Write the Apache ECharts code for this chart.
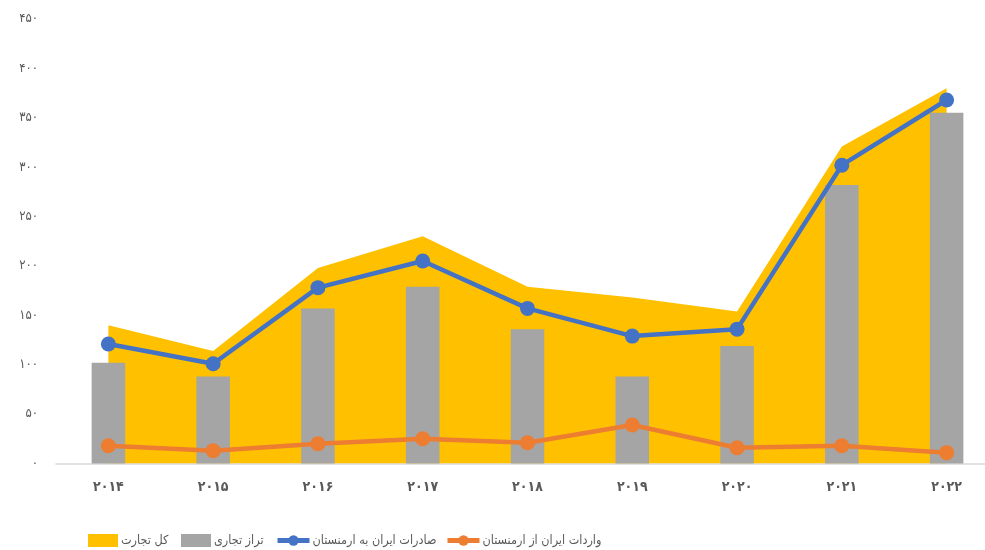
<!DOCTYPE html>
<html><head><meta charset="utf-8">
<script src="https://cdn.jsdelivr.net/npm/echarts@6/dist/echarts.min.js"></script>
<style>html,body{margin:0;padding:0;background:#fff}#c{width:985px;height:550px}</style>
</head><body><div id="c"></div>
<script>
const years = ['2014','2015','2016','2017','2018','2019','2020','2021','2022'];
const totalTrade = [140, 114, 198, 230, 179, 168, 154, 321, 380];
const tradeBalance = [102, 88, 157, 179, 136, 88, 119, 282, 355];
const exportsToArmenia = [121, 101, 178, 205, 157, 129, 136, 302, 368];
const importsFromArmenia = [18, 13, 20, 25, 21, 39, 16, 18, 11];
const names = ['کل تجارت', 'تراز تجاری', 'صادرات ایران به ارمنستان', 'واردات ایران از ارمنستان'];

function toFa(s){ return String(s).replace(/[0-9]/g, d => '۰۱۲۳۴۵۶۷۸۹'[d]); }
const FONT = '"DejaVu Sans Condensed", "DejaVu Sans", sans-serif';

const legendLefts = [88, 181, 275, 445];
const legendIcons = ['rect', 'rect', null, null];
const legends = names.map((n, i) => ({
  left: legendLefts[i], top: 534, padding: 0,
  itemWidth: i < 2 ? 30 : 32, itemHeight: 13,
  lineStyle: { width: 5 },
  textStyle: { color: '#595959', fontSize: 12.5, fontFamily: FONT, padding: [0, 0, 0, -2] },
  data: [legendIcons[i] ? { name: n, icon: legendIcons[i] } : { name: n }]
}));

const chart = echarts.init(document.getElementById('c'));
chart.setOption({
  animation: false,
  textStyle: { fontFamily: FONT },
  grid: { left: 56, width: 943, top: 19, height: 444.5, outerBoundsMode: 'none', containLabel: false },
  legend: legends,
  xAxis: {
    type: 'category', data: years,
    axisLine: { lineStyle: { color: '#d9d9d9', width: 1.5 } },
    axisTick: { show: false },
    axisLabel: { color: '#595959', fontSize: 14, fontWeight: 'bold', margin: 17, formatter: v => toFa(v), fontFamily: FONT }
  },
  yAxis: {
    type: 'value', min: 0, max: 450, interval: 50,
    axisLine: { show: false }, axisTick: { show: false },
    splitLine: { show: false },
    axisLabel: { color: '#595959', fontSize: 13, margin: 18, formatter: v => toFa(v), fontFamily: FONT }
  },
  series: [
    { name: names[0], type: 'line', data: totalTrade, symbol: 'none',
      lineStyle: { width: 0, color: '#FFC000' }, itemStyle: { color: '#FFC000' },
      areaStyle: { color: '#FFC000', opacity: 1 }, z: 1 },
    { name: names[1], type: 'bar', data: tradeBalance, barWidth: '32%',
      itemStyle: { color: '#A5A5A5' }, z: 2 },
    { name: names[2], type: 'line', data: exportsToArmenia, symbol: 'circle', symbolSize: 15,
      lineStyle: { width: 4.5, color: '#4472C4' }, itemStyle: { color: '#4472C4' }, z: 3 },
    { name: names[3], type: 'line', data: importsFromArmenia, symbol: 'circle', symbolSize: 15,
      lineStyle: { width: 4.5, color: '#ED7D31' }, itemStyle: { color: '#ED7D31' }, z: 3 }
  ]
});
</script></body></html>
